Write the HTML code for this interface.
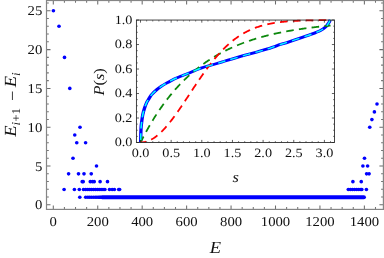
<!DOCTYPE html><html><head><meta charset="utf-8"><style>html,body{margin:0;padding:0;background:#fff;overflow:hidden}body{width:384px;height:258px;position:relative;font-family:"Liberation Serif",serif}</style></head><body><svg width="384" height="258" viewBox="0 0 384 258" style="position:absolute;left:0;top:0;display:block;will-change:transform">
<rect x="0" y="0" width="384" height="258" fill="#fff"/>
<g fill="#0000ff">
<circle cx="53.40" cy="10.80" r="1.82"/>
<circle cx="59.00" cy="26.30" r="1.82"/>
<circle cx="64.50" cy="57.40" r="1.82"/>
<circle cx="69.80" cy="88.40" r="1.82"/>
<circle cx="80.00" cy="127.20" r="1.82"/>
<circle cx="74.75" cy="135.00" r="1.82"/>
<circle cx="76.75" cy="142.70" r="1.82"/>
<circle cx="85.60" cy="142.70" r="1.82"/>
<circle cx="73.00" cy="158.25" r="1.82"/>
<circle cx="96.50" cy="166.00" r="1.82"/>
<circle cx="68.60" cy="173.85" r="1.82"/>
<circle cx="78.50" cy="173.85" r="1.82"/>
<circle cx="84.00" cy="173.85" r="1.82"/>
<circle cx="91.25" cy="173.85" r="1.82"/>
<circle cx="82.20" cy="181.65" r="1.82"/>
<circle cx="83.20" cy="181.65" r="1.82"/>
<circle cx="90.30" cy="181.65" r="1.82"/>
<circle cx="92.50" cy="181.65" r="1.82"/>
<circle cx="94.20" cy="181.65" r="1.82"/>
<circle cx="100.10" cy="181.65" r="1.82"/>
<circle cx="107.50" cy="181.65" r="1.82"/>
<circle cx="64.10" cy="189.45" r="1.82"/>
<circle cx="74.40" cy="189.45" r="1.82"/>
<circle cx="79.30" cy="189.45" r="1.82"/>
<circle cx="109.50" cy="189.45" r="1.82"/>
<circle cx="112.20" cy="189.45" r="1.82"/>
<circle cx="114.40" cy="189.45" r="1.82"/>
<circle cx="118.70" cy="189.45" r="1.82"/>
<circle cx="119.60" cy="189.45" r="1.82"/>
<circle cx="79.80" cy="197.30" r="1.82"/>
<circle cx="377.00" cy="104.00" r="1.82"/>
<circle cx="374.40" cy="111.90" r="1.82"/>
<circle cx="371.90" cy="119.60" r="1.82"/>
<circle cx="369.75" cy="127.30" r="1.82"/>
<circle cx="364.50" cy="158.25" r="1.82"/>
<circle cx="362.90" cy="166.00" r="1.82"/>
<circle cx="367.60" cy="166.00" r="1.82"/>
<circle cx="366.60" cy="173.85" r="1.82"/>
<circle cx="369.10" cy="173.85" r="1.82"/>
<circle cx="352.90" cy="181.65" r="1.82"/>
<circle cx="361.25" cy="181.65" r="1.82"/>
<circle cx="366.40" cy="189.45" r="1.82"/>
</g>
<g fill="#0000ff">
<circle cx="83.50" cy="189.45" r="1.82"/>
<circle cx="85.70" cy="189.45" r="1.82"/>
<circle cx="87.80" cy="189.45" r="1.82"/>
<circle cx="89.75" cy="189.45" r="1.82"/>
<circle cx="91.60" cy="189.45" r="1.82"/>
<circle cx="93.50" cy="189.45" r="1.82"/>
<circle cx="95.40" cy="189.45" r="1.82"/>
<circle cx="97.30" cy="189.45" r="1.82"/>
<circle cx="99.20" cy="189.45" r="1.82"/>
<circle cx="101.10" cy="189.45" r="1.82"/>
<circle cx="103.00" cy="189.45" r="1.82"/>
<circle cx="104.90" cy="189.45" r="1.82"/>
<circle cx="348.30" cy="189.45" r="1.82"/>
<circle cx="350.40" cy="189.45" r="1.82"/>
<circle cx="352.50" cy="189.45" r="1.82"/>
<circle cx="354.60" cy="189.45" r="1.82"/>
<circle cx="356.70" cy="189.45" r="1.82"/>
<circle cx="358.80" cy="189.45" r="1.82"/>
<circle cx="360.90" cy="189.45" r="1.82"/>
<circle cx="361.80" cy="189.45" r="1.82"/>
<circle cx="85.70" cy="197.30" r="1.82"/>
<circle cx="87.90" cy="197.30" r="1.82"/>
<circle cx="89.75" cy="197.30" r="1.82"/>
<circle cx="91.60" cy="197.30" r="1.82"/>
<circle cx="93.50" cy="197.30" r="1.82"/>
<circle cx="95.30" cy="197.30" r="1.82"/>
<circle cx="96.90" cy="197.30" r="1.82"/>
<circle cx="98.40" cy="197.30" r="1.82"/>
<circle cx="99.60" cy="197.30" r="1.82"/>
<circle cx="100.60" cy="197.30" r="1.82"/>
</g>
<g stroke="#0000ff" stroke-width="4.10" stroke-linecap="round" fill="none">
<line x1="102.2" y1="197.30" x2="363.9" y2="197.30"/>
</g>
<g stroke="#858585" fill="none">
<path d="M53.30 209.40V205.40M53.30 0.50V4.50M97.74 209.40V205.40M97.74 0.50V4.50M142.18 209.40V205.40M142.18 0.50V4.50M186.62 209.40V205.40M186.62 0.50V4.50M231.06 209.40V205.40M231.06 0.50V4.50M275.50 209.40V205.40M275.50 0.50V4.50M319.94 209.40V205.40M319.94 0.50V4.50M364.38 209.40V205.40M364.38 0.50V4.50M46.50 204.80H50.50M383.40 204.80H379.40M46.50 166.00H50.50M383.40 166.00H379.40M46.50 127.20H50.50M383.40 127.20H379.40M46.50 88.40H50.50M383.40 88.40H379.40M46.50 49.60H50.50M383.40 49.60H379.40M46.50 10.80H50.50M383.40 10.80H379.40" stroke-width="1.05" stroke="#6c6c6c"/>
<path d="M64.41 209.40V207.10M64.41 0.50V2.80M75.52 209.40V207.10M75.52 0.50V2.80M86.63 209.40V207.10M86.63 0.50V2.80M108.85 209.40V207.10M108.85 0.50V2.80M119.96 209.40V207.10M119.96 0.50V2.80M131.07 209.40V207.10M131.07 0.50V2.80M153.29 209.40V207.10M153.29 0.50V2.80M164.40 209.40V207.10M164.40 0.50V2.80M175.51 209.40V207.10M175.51 0.50V2.80M197.73 209.40V207.10M197.73 0.50V2.80M208.84 209.40V207.10M208.84 0.50V2.80M219.95 209.40V207.10M219.95 0.50V2.80M242.17 209.40V207.10M242.17 0.50V2.80M253.28 209.40V207.10M253.28 0.50V2.80M264.39 209.40V207.10M264.39 0.50V2.80M286.61 209.40V207.10M286.61 0.50V2.80M297.72 209.40V207.10M297.72 0.50V2.80M308.83 209.40V207.10M308.83 0.50V2.80M331.05 209.40V207.10M331.05 0.50V2.80M342.16 209.40V207.10M342.16 0.50V2.80M353.27 209.40V207.10M353.27 0.50V2.80M375.49 209.40V207.10M375.49 0.50V2.80M46.50 197.04H48.80M383.40 197.04H381.10M46.50 189.28H48.80M383.40 189.28H381.10M46.50 181.52H48.80M383.40 181.52H381.10M46.50 173.76H48.80M383.40 173.76H381.10M46.50 158.24H48.80M383.40 158.24H381.10M46.50 150.48H48.80M383.40 150.48H381.10M46.50 142.72H48.80M383.40 142.72H381.10M46.50 134.96H48.80M383.40 134.96H381.10M46.50 119.44H48.80M383.40 119.44H381.10M46.50 111.68H48.80M383.40 111.68H381.10M46.50 103.92H48.80M383.40 103.92H381.10M46.50 96.16H48.80M383.40 96.16H381.10M46.50 80.64H48.80M383.40 80.64H381.10M46.50 72.88H48.80M383.40 72.88H381.10M46.50 65.12H48.80M383.40 65.12H381.10M46.50 57.36H48.80M383.40 57.36H381.10M46.50 41.84H48.80M383.40 41.84H381.10M46.50 34.08H48.80M383.40 34.08H381.10M46.50 26.32H48.80M383.40 26.32H381.10M46.50 18.56H48.80M383.40 18.56H381.10M46.50 3.04H48.80M383.40 3.04H381.10" stroke-width="1.05" stroke="#747474"/>
<rect x="46.50" y="0.50" width="336.90" height="208.90" stroke-width="1.2"/>
</g>
<g style="font-family:&quot;Liberation Serif&quot;,serif;filter:opacity(0.999)" text-rendering="geometricPrecision">
<text transform="translate(53.30,226.00) scale(1.0900,1)" text-anchor="middle" font-size="13.5" fill="#111">0</text>
<text transform="translate(97.74,226.00) scale(1.0900,1)" text-anchor="middle" font-size="13.5" fill="#111">200</text>
<text transform="translate(142.18,226.00) scale(1.0900,1)" text-anchor="middle" font-size="13.5" fill="#111">400</text>
<text transform="translate(186.62,226.00) scale(1.0900,1)" text-anchor="middle" font-size="13.5" fill="#111">600</text>
<text transform="translate(231.06,226.00) scale(1.0900,1)" text-anchor="middle" font-size="13.5" fill="#111">800</text>
<text transform="translate(275.50,226.00) scale(1.0900,1)" text-anchor="middle" font-size="13.5" fill="#111">1000</text>
<text transform="translate(319.94,226.00) scale(1.0900,1)" text-anchor="middle" font-size="13.5" fill="#111">1200</text>
<text transform="translate(364.38,226.00) scale(1.0900,1)" text-anchor="middle" font-size="13.5" fill="#111">1400</text>
<text transform="translate(42.30,209.30) scale(1.0900,1)" text-anchor="end" font-size="13.5" fill="#111">0</text>
<text transform="translate(42.30,170.50) scale(1.0900,1)" text-anchor="end" font-size="13.5" fill="#111">5</text>
<text transform="translate(42.30,131.70) scale(1.0900,1)" text-anchor="end" font-size="13.5" fill="#111">10</text>
<text transform="translate(42.30,92.90) scale(1.0900,1)" text-anchor="end" font-size="13.5" fill="#111">15</text>
<text transform="translate(42.30,54.10) scale(1.0900,1)" text-anchor="end" font-size="13.5" fill="#111">20</text>
<text transform="translate(42.30,15.30) scale(1.0900,1)" text-anchor="end" font-size="13.5" fill="#111">25</text>
<text transform="translate(215.50,253.30) scale(1.0900,1)" text-anchor="middle" font-size="17" fill="#111" font-style="italic">E</text>
<text transform="translate(16.30,104.60) rotate(-90) scale(1.0900,1)" text-anchor="middle" font-size="17" fill="#111" font-style="italic">E<tspan font-size="12" dy="3.5">i<tspan font-style="normal">+1</tspan></tspan><tspan dy="-2" dx="6.3" font-style="normal">−</tspan><tspan dy="-1.5" dx="3">E</tspan><tspan font-size="12" dy="3.5">i</tspan></text>
</g>
<rect x="136.40" y="20.05" width="198.10" height="122.45" fill="#fff"/>
<clipPath id="c"><rect x="136.40" y="18.85" width="198.10" height="123.65"/></clipPath>
<g clip-path="url(#c)" fill="none">
<path transform="scale(1.15,1)" d="M122.26 142.40C122.29 141.17 122.36 137.53 122.43 135.00C122.51 132.47 122.55 129.58 122.70 127.25C122.84 124.92 123.07 123.08 123.30 121.00C123.54 118.92 123.75 116.83 124.13 114.75C124.51 112.67 124.98 110.58 125.57 108.50C126.15 106.42 127.07 103.73 127.65 102.25C128.23 100.77 128.49 100.64 129.04 99.60C129.59 98.56 130.49 96.83 130.96 96.00C131.42 95.17 130.97 95.62 131.83 94.60C132.68 93.58 134.65 91.30 136.09 89.90C137.52 88.50 138.99 87.33 140.43 86.20C141.88 85.07 143.33 84.07 144.78 83.10C146.23 82.13 147.68 81.25 149.13 80.40C150.58 79.55 152.03 78.73 153.48 78.00C154.93 77.27 156.09 76.80 157.83 76.00C159.57 75.20 161.09 74.52 163.91 73.20C166.74 71.88 171.16 69.55 174.78 68.10C178.41 66.65 182.39 65.60 185.65 64.50C188.91 63.40 191.59 62.45 194.35 61.50C197.10 60.55 199.06 59.85 202.17 58.80C205.29 57.75 209.42 56.37 213.04 55.20C216.67 54.03 220.65 52.85 223.91 51.80C227.17 50.75 229.86 49.90 232.61 48.90C235.36 47.90 237.32 46.98 240.43 45.80C243.55 44.62 247.68 43.17 251.30 41.80C254.93 40.43 258.91 38.87 262.17 37.60C265.43 36.33 268.12 35.38 270.87 34.20C273.62 33.02 276.67 31.68 278.70 30.50C280.72 29.32 281.87 28.33 283.04 27.10C284.22 25.87 285.04 24.32 285.74 23.10C286.43 21.88 286.97 20.35 287.22 19.80" stroke="#0000ff" stroke-width="2.9" stroke-linejoin="round"/>
<path d="M140.50 142.50L141.13 141.24L141.77 140.00L142.40 138.76L143.03 137.54L143.67 136.33L144.30 135.14L144.93 133.96L145.57 132.78L146.20 131.63L146.83 130.48L147.47 129.34L148.10 128.22L148.73 127.11L149.37 126.01L150.00 124.92L150.63 123.84L151.27 122.77L151.90 121.72L152.54 120.67L153.17 119.64L153.80 118.61L154.44 117.60L155.07 116.60L155.70 115.61L156.34 114.62L156.97 113.65L157.60 112.69L158.24 111.74L158.87 110.79L159.50 109.86L160.14 108.94L160.77 108.02L161.40 107.12L162.04 106.22L162.67 105.34L163.30 104.46L163.94 103.59L164.57 102.73L165.20 101.88L165.84 101.04L166.47 100.21L167.10 99.39L167.74 98.57L168.37 97.76L169.00 96.97L169.64 96.17L170.27 95.39L170.90 94.62L171.54 93.85L172.17 93.09L172.81 92.34L173.44 91.60L174.07 90.86L174.71 90.13L175.34 89.41L175.97 88.70L176.61 88.00L177.24 87.30L177.87 86.61L178.51 85.92L179.14 85.24L179.77 84.57L180.41 83.91L181.04 83.25L181.67 82.60L182.31 81.96L182.94 81.32L183.57 80.69L184.21 80.07L184.84 79.45L185.47 78.84L186.11 78.24L186.74 77.64L187.37 77.05L188.01 76.46L188.64 75.88L189.27 75.31L189.91 74.74L190.54 74.18L191.17 73.62L191.81 73.07L192.44 72.53L193.07 71.99L193.71 71.45L194.34 70.92L194.98 70.40L195.61 69.88L196.24 69.37L196.88 68.86L197.51 68.36L198.14 67.87L198.78 67.37L199.41 66.89L200.04 66.41L200.68 65.93L201.31 65.46L201.94 64.99L202.58 64.53L203.21 64.07L203.84 63.62L204.48 63.17L205.11 62.73L205.74 62.29L206.38 61.86L207.01 61.43L207.64 61.00L208.28 60.58L208.91 60.16L209.54 59.75L210.18 59.34L210.81 58.94L211.44 58.54L212.08 58.14L212.71 57.75L213.34 57.36L213.98 56.98L214.61 56.60L215.25 56.23L215.88 55.85L216.51 55.49L217.15 55.12L217.78 54.76L218.41 54.40L219.05 54.05L219.68 53.70L220.31 53.35L220.95 53.01L221.58 52.67L222.21 52.34L222.85 52.01L223.48 51.68L224.11 51.35L224.75 51.03L225.38 50.71L226.01 50.40L226.65 50.09L227.28 49.78L227.91 49.47L228.55 49.17L229.18 48.87L229.81 48.57L230.45 48.28L231.08 47.99L231.71 47.70L232.35 47.42L232.98 47.14L233.61 46.86L234.25 46.58L234.88 46.31L235.51 46.04L236.15 45.77L236.78 45.51L237.42 45.25L238.05 44.99L238.68 44.73L239.32 44.48L239.95 44.23L240.58 43.98L241.22 43.73L241.85 43.49L242.48 43.25L243.12 43.01L243.75 42.77L244.38 42.54L245.02 42.31L245.65 42.08L246.28 41.85L246.92 41.63L247.55 41.41L248.18 41.19L248.82 40.97L249.45 40.75L250.08 40.54L250.72 40.33L251.35 40.12L251.98 39.92L252.62 39.71L253.25 39.51L253.88 39.31L254.52 39.11L255.15 38.92L255.78 38.72L256.42 38.53L257.05 38.34L257.69 38.15L258.32 37.97L258.95 37.78L259.59 37.60L260.22 37.42L260.85 37.24L261.49 37.06L262.12 36.89L262.75 36.72L263.39 36.54L264.02 36.38L264.65 36.21L265.29 36.04L265.92 35.88L266.55 35.71L267.19 35.55L267.82 35.39L268.45 35.24L269.09 35.08L269.72 34.93L270.35 34.77L270.99 34.62L271.62 34.47L272.25 34.32L272.89 34.18L273.52 34.03L274.15 33.89L274.79 33.75L275.42 33.60L276.05 33.46L276.69 33.33L277.32 33.19L277.96 33.06L278.59 32.92L279.22 32.79L279.86 32.66L280.49 32.53L281.12 32.40L281.76 32.27L282.39 32.15L283.02 32.02L283.66 31.90L284.29 31.78L284.92 31.66L285.56 31.54L286.19 31.42L286.82 31.30L287.46 31.19L288.09 31.07L288.72 30.96L289.36 30.85L289.99 30.74L290.62 30.63L291.26 30.52L291.89 30.41L292.52 30.30L293.16 30.20L293.79 30.09L294.42 29.99L295.06 29.89L295.69 29.79L296.32 29.69L296.96 29.59L297.59 29.49L298.22 29.39L298.86 29.30L299.49 29.20L300.13 29.11L300.76 29.02L301.39 28.92L302.03 28.83L302.66 28.74L303.29 28.65L303.93 28.56L304.56 28.48L305.19 28.39L305.83 28.30L306.46 28.22L307.09 28.14L307.73 28.05L308.36 27.97L308.99 27.89L309.63 27.81L310.26 27.73L310.89 27.65L311.53 27.57L312.16 27.49L312.79 27.42L313.43 27.34L314.06 27.27L314.69 27.19L315.33 27.12L315.96 27.05L316.59 26.97L317.23 26.90L317.86 26.83L318.49 26.76L319.13 26.69L319.76 26.63L320.40 26.56L321.03 26.49L321.66 26.42L322.30 26.36L322.93 26.29L323.56 26.23L324.20 26.17L324.83 26.10L325.46 26.04L326.10 25.98L326.73 25.92L327.36 25.86L328.00 25.80L328.63 25.74L329.26 25.68L329.90 25.62L330.53 25.57" stroke="#0c880c" stroke-width="1.8" stroke-dasharray="7.6 5.22" stroke-dashoffset="0.9"/>
<path d="M140.50 142.50L141.13 142.49L141.77 142.46L142.40 142.41L143.03 142.34L143.67 142.24L144.30 142.13L144.93 142.00L145.57 141.84L146.20 141.67L146.83 141.48L147.47 141.26L148.10 141.03L148.73 140.78L149.37 140.50L150.00 140.21L150.63 139.90L151.27 139.57L151.90 139.22L152.54 138.85L153.17 138.46L153.80 138.05L154.44 137.63L155.07 137.19L155.70 136.73L156.34 136.25L156.97 135.75L157.60 135.24L158.24 134.71L158.87 134.16L159.50 133.60L160.14 133.02L160.77 132.42L161.40 131.81L162.04 131.19L162.67 130.55L163.30 129.89L163.94 129.22L164.57 128.53L165.20 127.84L165.84 127.12L166.47 126.40L167.10 125.66L167.74 124.91L168.37 124.15L169.00 123.38L169.64 122.59L170.27 121.79L170.90 120.99L171.54 120.17L172.17 119.34L172.81 118.50L173.44 117.66L174.07 116.80L174.71 115.94L175.34 115.06L175.97 114.18L176.61 113.30L177.24 112.40L177.87 111.50L178.51 110.59L179.14 109.68L179.77 108.76L180.41 107.83L181.04 106.90L181.67 105.97L182.31 105.03L182.94 104.09L183.57 103.14L184.21 102.19L184.84 101.24L185.47 100.28L186.11 99.33L186.74 98.37L187.37 97.41L188.01 96.45L188.64 95.49L189.27 94.53L189.91 93.56L190.54 92.60L191.17 91.64L191.81 90.68L192.44 89.72L193.07 88.77L193.71 87.81L194.34 86.86L194.98 85.90L195.61 84.96L196.24 84.01L196.88 83.07L197.51 82.13L198.14 81.19L198.78 80.26L199.41 79.34L200.04 78.41L200.68 77.50L201.31 76.58L201.94 75.68L202.58 74.77L203.21 73.88L203.84 72.99L204.48 72.10L205.11 71.22L205.74 70.35L206.38 69.48L207.01 68.63L207.64 67.77L208.28 66.93L208.91 66.09L209.54 65.26L210.18 64.44L210.81 63.62L211.44 62.82L212.08 62.02L212.71 61.22L213.34 60.44L213.98 59.67L214.61 58.90L215.25 58.14L215.88 57.39L216.51 56.65L217.15 55.92L217.78 55.20L218.41 54.48L219.05 53.77L219.68 53.08L220.31 52.39L220.95 51.71L221.58 51.04L222.21 50.38L222.85 49.73L223.48 49.09L224.11 48.45L224.75 47.83L225.38 47.21L226.01 46.61L226.65 46.01L227.28 45.42L227.91 44.84L228.55 44.27L229.18 43.71L229.81 43.16L230.45 42.62L231.08 42.09L231.71 41.56L232.35 41.05L232.98 40.54L233.61 40.05L234.25 39.56L234.88 39.08L235.51 38.61L236.15 38.14L236.78 37.69L237.42 37.24L238.05 36.81L238.68 36.38L239.32 35.96L239.95 35.55L240.58 35.14L241.22 34.75L241.85 34.36L242.48 33.98L243.12 33.61L243.75 33.24L244.38 32.88L245.02 32.54L245.65 32.19L246.28 31.86L246.92 31.53L247.55 31.21L248.18 30.90L248.82 30.59L249.45 30.29L250.08 30.00L250.72 29.72L251.35 29.44L251.98 29.17L252.62 28.90L253.25 28.64L253.88 28.39L254.52 28.14L255.15 27.90L255.78 27.66L256.42 27.43L257.05 27.21L257.69 26.99L258.32 26.78L258.95 26.57L259.59 26.37L260.22 26.17L260.85 25.98L261.49 25.79L262.12 25.61L262.75 25.44L263.39 25.26L264.02 25.10L264.65 24.93L265.29 24.78L265.92 24.62L266.55 24.47L267.19 24.33L267.82 24.19L268.45 24.05L269.09 23.91L269.72 23.78L270.35 23.66L270.99 23.54L271.62 23.42L272.25 23.30L272.89 23.19L273.52 23.08L274.15 22.98L274.79 22.88L275.42 22.78L276.05 22.68L276.69 22.59L277.32 22.50L277.96 22.41L278.59 22.33L279.22 22.24L279.86 22.16L280.49 22.09L281.12 22.01L281.76 21.94L282.39 21.87L283.02 21.80L283.66 21.74L284.29 21.68L284.92 21.62L285.56 21.56L286.19 21.50L286.82 21.44L287.46 21.39L288.09 21.34L288.72 21.29L289.36 21.24L289.99 21.20L290.62 21.15L291.26 21.11L291.89 21.07L292.52 21.03L293.16 20.99L293.79 20.95L294.42 20.92L295.06 20.88L295.69 20.85L296.32 20.82L296.96 20.78L297.59 20.75L298.22 20.73L298.86 20.70L299.49 20.67L300.13 20.65L300.76 20.62L301.39 20.60L302.03 20.57L302.66 20.55L303.29 20.53L303.93 20.51L304.56 20.49L305.19 20.47L305.83 20.45L306.46 20.44L307.09 20.42L307.73 20.40L308.36 20.39L308.99 20.37L309.63 20.36L310.26 20.35L310.89 20.33L311.53 20.32L312.16 20.31L312.79 20.30L313.43 20.29L314.06 20.28L314.69 20.27L315.33 20.26L315.96 20.25L316.59 20.24L317.23 20.23L317.86 20.22L318.49 20.21L319.13 20.21L319.76 20.20L320.40 20.19L321.03 20.18L321.66 20.18L322.30 20.17L322.93 20.17L323.56 20.16L324.20 20.16L324.83 20.15L325.46 20.15L326.10 20.14L326.73 20.14L327.36 20.13L328.00 20.13L328.63 20.13L329.26 20.12L329.90 20.12L330.53 20.11" stroke="#ff0000" stroke-width="1.8" stroke-dasharray="7.6 5.3" stroke-dashoffset="1.8"/>
<path transform="scale(1.15,1)" d="M122.26 142.40C122.29 141.17 122.36 137.53 122.43 135.00C122.51 132.47 122.55 129.58 122.70 127.25C122.84 124.92 123.07 123.08 123.30 121.00C123.54 118.92 123.75 116.83 124.13 114.75C124.51 112.67 124.98 110.58 125.57 108.50C126.15 106.42 127.07 103.73 127.65 102.25C128.23 100.77 128.49 100.64 129.04 99.60C129.59 98.56 130.49 96.83 130.96 96.00C131.42 95.17 130.97 95.62 131.83 94.60C132.68 93.58 134.65 91.30 136.09 89.90C137.52 88.50 138.99 87.33 140.43 86.20C141.88 85.07 143.33 84.07 144.78 83.10C146.23 82.13 147.68 81.25 149.13 80.40C150.58 79.55 152.03 78.73 153.48 78.00C154.93 77.27 156.09 76.80 157.83 76.00C159.57 75.20 161.09 74.52 163.91 73.20C166.74 71.88 171.16 69.55 174.78 68.10C178.41 66.65 182.39 65.60 185.65 64.50C188.91 63.40 191.59 62.45 194.35 61.50C197.10 60.55 199.06 59.85 202.17 58.80C205.29 57.75 209.42 56.37 213.04 55.20C216.67 54.03 220.65 52.85 223.91 51.80C227.17 50.75 229.86 49.90 232.61 48.90C235.36 47.90 237.32 46.98 240.43 45.80C243.55 44.62 247.68 43.17 251.30 41.80C254.93 40.43 258.91 38.87 262.17 37.60C265.43 36.33 268.12 35.38 270.87 34.20C273.62 33.02 276.67 31.68 278.70 30.50C280.72 29.32 281.87 28.33 283.04 27.10C284.22 25.87 285.04 24.32 285.74 23.10C286.43 21.88 286.97 20.35 287.22 19.80" stroke="#00ffff" stroke-width="1.4" stroke-dasharray="6.7 4.66" stroke-dashoffset="8.9"/>
</g>
<g stroke="#222" fill="none">
<path d="M140.50 142.50V139.90M140.50 20.05V22.65M171.15 142.50V139.90M171.15 20.05V22.65M201.80 142.50V139.90M201.80 20.05V22.65M232.45 142.50V139.90M232.45 20.05V22.65M263.10 142.50V139.90M263.10 20.05V22.65M293.75 142.50V139.90M293.75 20.05V22.65M324.40 142.50V139.90M324.40 20.05V22.65M136.40 142.50H139.00M334.50 142.50H331.90M136.40 118.01H139.00M334.50 118.01H331.90M136.40 93.52H139.00M334.50 93.52H331.90M136.40 69.03H139.00M334.50 69.03H331.90M136.40 44.54H139.00M334.50 44.54H331.90M136.40 20.05H139.00M334.50 20.05H331.90" stroke-width="0.75" stroke="#2a2a2a"/>
<path d="M146.63 142.50V141.00M146.63 20.05V21.55M152.76 142.50V141.00M152.76 20.05V21.55M158.89 142.50V141.00M158.89 20.05V21.55M165.02 142.50V141.00M165.02 20.05V21.55M177.28 142.50V141.00M177.28 20.05V21.55M183.41 142.50V141.00M183.41 20.05V21.55M189.54 142.50V141.00M189.54 20.05V21.55M195.67 142.50V141.00M195.67 20.05V21.55M207.93 142.50V141.00M207.93 20.05V21.55M214.06 142.50V141.00M214.06 20.05V21.55M220.19 142.50V141.00M220.19 20.05V21.55M226.32 142.50V141.00M226.32 20.05V21.55M238.58 142.50V141.00M238.58 20.05V21.55M244.71 142.50V141.00M244.71 20.05V21.55M250.84 142.50V141.00M250.84 20.05V21.55M256.97 142.50V141.00M256.97 20.05V21.55M269.23 142.50V141.00M269.23 20.05V21.55M275.36 142.50V141.00M275.36 20.05V21.55M281.49 142.50V141.00M281.49 20.05V21.55M287.62 142.50V141.00M287.62 20.05V21.55M299.88 142.50V141.00M299.88 20.05V21.55M306.01 142.50V141.00M306.01 20.05V21.55M312.14 142.50V141.00M312.14 20.05V21.55M318.27 142.50V141.00M318.27 20.05V21.55M330.53 142.50V141.00M330.53 20.05V21.55M136.40 136.38H137.90M334.50 136.38H333.00M136.40 130.25H137.90M334.50 130.25H333.00M136.40 124.13H137.90M334.50 124.13H333.00M136.40 111.89H137.90M334.50 111.89H333.00M136.40 105.76H137.90M334.50 105.76H333.00M136.40 99.64H137.90M334.50 99.64H333.00M136.40 87.40H137.90M334.50 87.40H333.00M136.40 81.28H137.90M334.50 81.28H333.00M136.40 75.15H137.90M334.50 75.15H333.00M136.40 62.91H137.90M334.50 62.91H333.00M136.40 56.78H137.90M334.50 56.78H333.00M136.40 50.66H137.90M334.50 50.66H333.00M136.40 38.42H137.90M334.50 38.42H333.00M136.40 32.30H137.90M334.50 32.30H333.00M136.40 26.17H137.90M334.50 26.17H333.00" stroke-width="0.6" stroke="#333"/>
<rect x="136.40" y="20.05" width="198.10" height="122.45" stroke-width="0.85"/>
</g>
<g style="font-family:&quot;Liberation Serif&quot;,serif;filter:opacity(0.999)" text-rendering="geometricPrecision">
<text transform="translate(140.50,156.70) scale(1.1200,1)" text-anchor="middle" font-size="12.7" fill="#111">0.0</text>
<text transform="translate(171.15,156.70) scale(1.1200,1)" text-anchor="middle" font-size="12.7" fill="#111">0.5</text>
<text transform="translate(201.80,156.70) scale(1.1200,1)" text-anchor="middle" font-size="12.7" fill="#111">1.0</text>
<text transform="translate(232.45,156.70) scale(1.1200,1)" text-anchor="middle" font-size="12.7" fill="#111">1.5</text>
<text transform="translate(263.10,156.70) scale(1.1200,1)" text-anchor="middle" font-size="12.7" fill="#111">2.0</text>
<text transform="translate(293.75,156.70) scale(1.1200,1)" text-anchor="middle" font-size="12.7" fill="#111">2.5</text>
<text transform="translate(324.40,156.70) scale(1.1200,1)" text-anchor="middle" font-size="12.7" fill="#111">3.0</text>
<text transform="translate(132.40,146.20) scale(1.1200,1)" text-anchor="end" font-size="12.7" fill="#111">0.0</text>
<text transform="translate(132.40,121.71) scale(1.1200,1)" text-anchor="end" font-size="12.7" fill="#111">0.2</text>
<text transform="translate(132.40,97.22) scale(1.1200,1)" text-anchor="end" font-size="12.7" fill="#111">0.4</text>
<text transform="translate(132.40,72.73) scale(1.1200,1)" text-anchor="end" font-size="12.7" fill="#111">0.6</text>
<text transform="translate(132.40,48.24) scale(1.1200,1)" text-anchor="end" font-size="12.7" fill="#111">0.8</text>
<text transform="translate(132.40,23.75) scale(1.1200,1)" text-anchor="end" font-size="12.7" fill="#111">1.0</text>
<text transform="translate(235.70,181.80) scale(1.0900,1)" text-anchor="middle" font-size="15" fill="#111" font-style="italic">s</text>
<text transform="translate(103.60,81.90) rotate(-90) scale(1.0900,1)" text-anchor="middle" font-size="15" fill="#111" font-style="italic">P<tspan font-style="normal">(</tspan>s<tspan font-style="normal">)</tspan></text>
</g>
</svg></body></html>
